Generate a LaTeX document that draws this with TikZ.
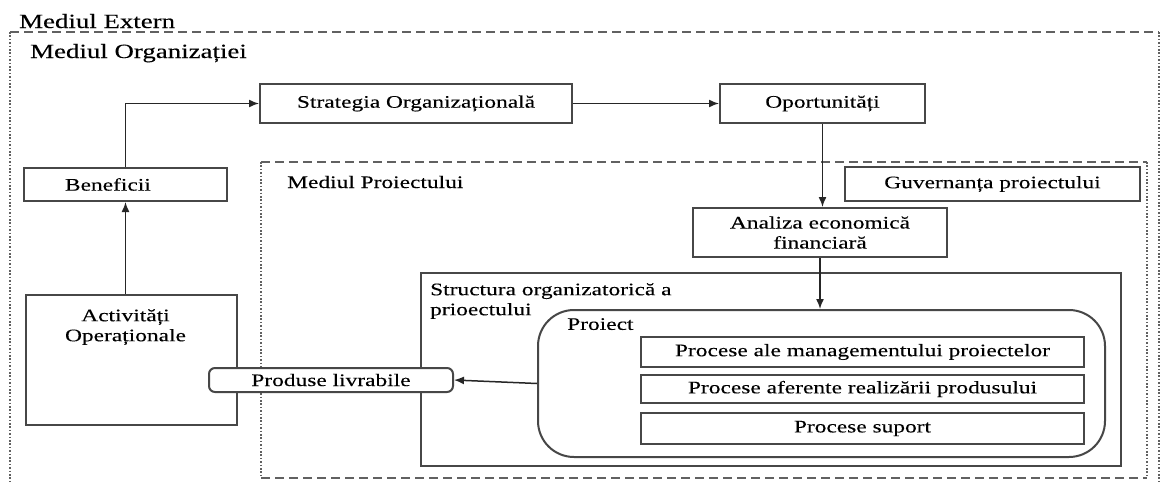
\documentclass[tikz,border=0pt]{standalone}
\usepackage{fontspec}
\setmainfont{Liberation Serif}[FakeStretch=1.33, FakeBold=0.15]
\usetikzlibrary{positioning,arrows.meta}

\newcommand{\boxfont}{\fontsize{17.6}{20}\selectfont}
\newcommand{\envfont}{\fontsize{20.2}{24}\selectfont}

\tikzset{
  box/.style={draw=black!72, line width=2pt, fill=white, inner sep=0pt, font=\boxfont},
  txt/.style={inner sep=0pt, font=\boxfont},
  envlbl/.style={inner sep=0pt, font=\envfont, anchor=base west},
  envdash/.style={draw=black!62, line width=1.7pt, dash pattern=on 9pt off 5pt},
  envdot/.style={draw=black!62, line width=2.6pt, dash pattern=on 1.6pt off 1.8pt},
  arr/.style={draw=black!85, line width=1.5pt, -{Latex[length=10pt,width=8pt]}}
}

\begin{document}
\begin{tikzpicture}[x=1pt, y=-1pt]
\useasboundingbox[fill=white] (0,0) rectangle (1173,482);

% mediul extern / organizatiei
\draw[envdash] (10,32) -- (1159,32);
\draw[envdot] (10,32) -- (10,482);
\draw[envdot] (1159,32) -- (1159,482);
\node[envlbl] (extlbl) at (19,28) {Mediul Extern};
\node[envlbl] (orglbl) at (30,58) {Mediul Organizației};

% mediul proiectului
\draw[envdash] (261,162) -- (1147,162);
\draw[envdash] (261,478) -- (1147,478);
\draw[envdot] (261,162) -- (261,478);
\draw[envdot] (1147,162) -- (1147,478);
\node[envlbl, font=\boxfont] (prlbl) at (287,188) {Mediul Proiectului};

% boxes
\node[box, minimum width=312pt, minimum height=39pt] (strat) at (416,103.5) {Strategia Organizațională};
\node[box, minimum width=205pt, minimum height=39pt] (oport) at (822.5,103.5) {Oportunități};
\node[box, minimum width=203pt, minimum height=33pt, text width=121pt, align=left] (benef) at (125.5,184.5) {Beneficii};
\node[box, minimum width=211pt, minimum height=130pt] (activ) at (131.5,360) {};
\node[txt, align=center, below=15pt of activ.north, xshift=-6pt] (activtxt) {Activități\\Operaționale};
\node[box, minimum width=295pt, minimum height=34pt] (guv) at (992.5,184) {Guvernanța proiectului};
\node[box, minimum width=254pt, minimum height=49pt, align=center] (anal) at (820,232.5) {Analiza economică\\financiară};

\node[box, minimum width=700pt, minimum height=193pt] (struct) at (771,369.5) {};
\node[txt, align=left, below right=11pt and 10pt of struct.north west] (structtxt) {Structura organizatorică a\\prioectului};

\node[box, rounded corners=36pt, minimum width=567pt, minimum height=147pt] (proiect) at (821.5,383.5) {};
\node[txt, below right=9pt and 30pt of proiect.north west] (proiecttxt) {Proiect};

\node[box, minimum width=443pt, minimum height=30pt] (proc1) at (862.5,352) {Procese ale managementului proiectelor};
\node[box, minimum width=443pt, minimum height=28pt] (proc2) at (862.5,389) {Procese aferente realizării produsului};
\node[box, minimum width=443pt, minimum height=31pt] (proc3) at (862.5,428.5) {Procese suport};

\node[box, rounded corners=6pt, minimum width=244pt, minimum height=24pt] (prod) at (331,380) {Produse livrabile};

% arrows
\draw[arr] (benef.south |- activ.north) -- (benef.south);
\draw[arr] (benef.north) |- (strat.west);
\draw[arr] (strat.east) -- (oport.west);
\draw[arr] (oport.south) -- (oport.south |- anal.north);
\draw[arr] (anal.south) -- (anal.south |- proiect.north);
\draw[arr] (proiect.west) -- (prod.east);
\end{tikzpicture}
\end{document}
